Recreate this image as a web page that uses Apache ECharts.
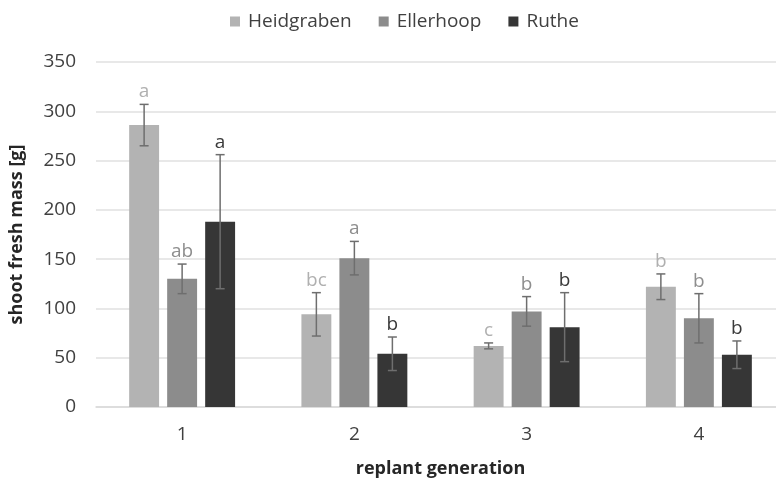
<!DOCTYPE html>
<html>
<head>
<meta charset="utf-8">
<script src="https://cdn.jsdelivr.net/npm/echarts@6/dist/echarts.min.js"></script>
<style>
  html, body { margin: 0; padding: 0; background: #fff; }
  #chart { width: 776px; height: 482px; }
</style>
</head>
<body>
<div id="chart"></div>
<script>
// Replant generations on the x axis
const categories = ['1', '2', '3', '4'];

// Mean shoot fresh mass [g] per site
const heidgraben = [286, 94, 62, 122];
const ellerhoop  = [130, 151, 97, 90];
const ruthe      = [188, 54, 81, 53];

// Standard deviation (symmetric error bars)
const heidgrabenErr = [21, 22, 3, 13];
const ellerhoopErr  = [15, 17, 15, 25];
const rutheErr      = [68, 17, 35, 14];

// Significance letters above the bars
const heidgrabenLetters = ['a', 'bc', 'c', 'b'];
const ellerhoopLetters  = ['ab', 'a', 'b', 'b'];
const rutheLetters      = ['a', 'b', 'b', 'b'];

const siteNames = ['Heidgraben', 'Ellerhoop', 'Ruthe'];
const siteColors = ['#b3b3b3', '#8c8c8c', '#363636'];
const letterColors = ['#b0b0b0', '#8e8e8e', '#3a3a3a'];

const means = [heidgraben, ellerhoop, ruthe];
const errs = [heidgrabenErr, ellerhoopErr, rutheErr];
const letters = [heidgrabenLetters, ellerhoopLetters, rutheLetters];

const FONT = '"Open Sans", "Noto Sans", sans-serif';
const chart = echarts.init(document.getElementById('chart'));

const nSeries = siteNames.length;
const barGapRatio = 0.27;
const catGapRatio = 0.385;

// Error bar + letter for one site, offset to sit over its bar
function errorSeries(s) {
  const data = categories.map((c, i) => [i, means[s][i], errs[s][i], letters[s][i]]);
  return {
    type: 'custom',
    name: siteNames[s] + ' error',
    z: 10,
    data: data,
    renderItem: function (params, api) {
      const idx = api.value(0);
      const mean = api.value(1);
      const err = api.value(2);
      const bandWidth = api.size([1, 0])[0];
      const groupWidth = bandWidth * (1 - catGapRatio);
      const barW = groupWidth / (nSeries + (nSeries - 1) * barGapRatio);
      const centerX = api.coord([idx, 0])[0];
      const x = centerX - groupWidth / 2 + s * barW * (1 + barGapRatio) + barW / 2;
      const top = api.coord([idx, mean + err])[1];
      const bot = api.coord([idx, mean - err])[1];
      const cap = 4.5;
      const style = { stroke: '#6e6e6e', lineWidth: 1.5 };
      return {
        type: 'group',
        children: [
          { type: 'line', shape: { x1: x, y1: top, x2: x, y2: bot }, style: style },
          { type: 'line', shape: { x1: x - cap, y1: top, x2: x + cap, y2: top }, style: style },
          { type: 'line', shape: { x1: x - cap, y1: bot, x2: x + cap, y2: bot }, style: style },
          {
            type: 'text',
            x: x,
            y: top - 3,
            style: {
              text: data[params.dataIndex][3],
              fill: letterColors[s],
              font: '19px ' + FONT,
              align: 'center',
              verticalAlign: 'bottom'
            }
          }
        ]
      };
    }
  };
}

const barSeries = siteNames.map((name, s) => ({
  type: 'bar',
  name: name,
  data: means[s],
  itemStyle: { color: siteColors[s] },
  barGap: (barGapRatio * 100) + '%',
  barCategoryGap: (catGapRatio * 100) + '%',
  emphasis: { disabled: true }
}));

chart.setOption({
  animation: false,
  textStyle: { fontFamily: FONT },
  legend: {
    data: siteNames,
    top: 7,
    left: 225,
    itemWidth: 10,
    itemHeight: 10,
    itemGap: 27,
    icon: 'rect',
    textStyle: { fontSize: 19, color: '#404040', fontFamily: FONT, padding: [0, 0, 0, 3] }
  },
  // plot area runs slightly past the right edge of the canvas
  grid: { left: 96, width: 689, top: 62, height: 345, outerBoundsMode: 'none', containLabel: false },
  xAxis: {
    type: 'category',
    data: categories,
    name: 'replant generation',
    nameLocation: 'middle',
    nameGap: 53,
    nameTextStyle: { fontSize: 18, fontWeight: 'bold', color: '#262626', fontFamily: FONT },
    axisLine: { lineStyle: { color: '#d9d9d9', width: 1.5 } },
    axisTick: { show: false },
    axisLabel: { fontSize: 19, color: '#404040', margin: 18 }
  },
  yAxis: {
    type: 'value',
    min: 0,
    max: 350,
    interval: 50,
    name: 'shoot fresh mass [g]',
    nameLocation: 'middle',
    nameGap: 70,
    nameRotate: 90,
    nameTextStyle: { fontSize: 18, fontWeight: 'bold', color: '#262626', fontFamily: FONT },
    axisLine: { show: false },
    axisTick: { show: false },
    axisLabel: { fontSize: 19, color: '#404040', margin: 20 },
    splitLine: { lineStyle: { color: '#e0e0e0', width: 1.5 } }
  },
  series: barSeries.concat(siteNames.map((n, s) => errorSeries(s)))
});
</script>
</body>
</html>
